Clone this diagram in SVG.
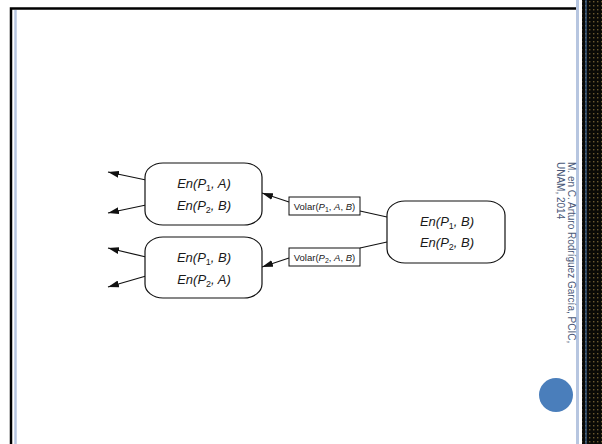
<svg xmlns="http://www.w3.org/2000/svg" width="602" height="444" viewBox="0 0 602 444">
  <style>
    .node { fill: #ffffff; stroke: #111111; stroke-width: 1.2; }
    .op { fill: #ffffff; stroke: #111111; stroke-width: 1; }
    .edge { fill: none; stroke: #111111; stroke-width: 1.2; }
    .lbl { font-family: "Liberation Sans", Arial, sans-serif; font-size: 13px; font-style: italic; fill: #1a1a1a; text-anchor: middle; }
    .sub { font-style: normal; }
    .op-lbl { font-family: "Liberation Sans", Arial, sans-serif; font-size: 9.5px; fill: #1a1a1a; text-anchor: middle; }
    .it { font-style: italic; }
    .credit { font-family: "Liberation Sans", Arial, sans-serif; font-size: 10px; fill: #4a5878; }
  </style>
  <defs>
    <marker id="arrow" viewBox="0 0 11 7" refX="11" refY="3.5" markerWidth="11" markerHeight="7" markerUnits="userSpaceOnUse" orient="auto">
      <path d="M0,0 L11,3.5 L0,7 Z" fill="#111111"/>
    </marker>
    <pattern id="dots" width="4" height="4" patternUnits="userSpaceOnUse">
      <rect width="4" height="4" fill="#0a0a06"/>
      <rect x="1" y="1" width="1.4" height="1.4" fill="#6b5a30"/>
    </pattern>
  </defs>

  <!-- slide background and frame -->
  <rect width="602" height="444" fill="#ffffff"/>
  <rect x="582" y="0" width="20" height="444" fill="url(#dots)"/>
  <line x1="586" y1="0" x2="586" y2="444" stroke="#4a7ebb" stroke-width="1"/>
  <line x1="577.5" y1="0" x2="577.5" y2="444" stroke="#b7c6e0" stroke-width="3"/>
  <line x1="15.5" y1="10" x2="15.5" y2="444" stroke="#b7c6e0" stroke-width="2.5"/>
  <polyline points="11,444 11,8.5 576,8.5" fill="none" stroke="#000000" stroke-width="2.5"/>

  <!-- author credit -->
  <text class="credit" transform="translate(568,162) rotate(90)">M. en C. Arturo Rodríguez García, PCIC,</text>
  <text class="credit" transform="translate(557,162) rotate(90)">UNAM, 2014</text>

  <circle cx="556" cy="395" r="17" fill="#4a7ebb"/>

  <!-- connectors -->
  <g id="edges">
    <line class="edge" x1="387" y1="217" x2="360" y2="211"/>
    <line class="edge" x1="387" y1="242" x2="360" y2="248"/>
    <line class="edge" x1="289" y1="202" x2="262" y2="193" marker-end="url(#arrow)"/>
    <line class="edge" x1="289" y1="258" x2="262" y2="267" marker-end="url(#arrow)"/>
    <line class="edge" x1="146" y1="180" x2="108" y2="172" marker-end="url(#arrow)"/>
    <line class="edge" x1="146" y1="205" x2="108" y2="213" marker-end="url(#arrow)"/>
    <line class="edge" x1="146" y1="257" x2="108" y2="248" marker-end="url(#arrow)"/>
    <line class="edge" x1="146" y1="276" x2="108" y2="287" marker-end="url(#arrow)"/>
  </g>

  <!-- state: P1 at B, P2 at B -->
  <g id="state-start">
    <rect class="node" x="387" y="201" width="118" height="62" rx="18" ry="14"/>
    <text class="lbl" x="447" y="226">En(P<tspan class="sub" font-size="9" dy="3">1</tspan><tspan dy="-3">, B)</tspan></text>
    <text class="lbl" x="447" y="247">En(P<tspan class="sub" font-size="9" dy="3">2</tspan><tspan dy="-3">, B)</tspan></text>
  </g>

  <!-- state: P1 at A, P2 at B -->
  <g id="state-top">
    <rect class="node" x="145" y="163" width="117" height="62" rx="18" ry="14"/>
    <text class="lbl" x="204" y="188">En(P<tspan class="sub" font-size="9" dy="3">1</tspan><tspan dy="-3">, A)</tspan></text>
    <text class="lbl" x="204" y="210">En(P<tspan class="sub" font-size="9" dy="3">2</tspan><tspan dy="-3">, B)</tspan></text>
  </g>

  <!-- state: P1 at B, P2 at A -->
  <g id="state-bottom">
    <rect class="node" x="145" y="237" width="117" height="61" rx="18" ry="14"/>
    <text class="lbl" x="204" y="262">En(P<tspan class="sub" font-size="9" dy="3">1</tspan><tspan dy="-3">, B)</tspan></text>
    <text class="lbl" x="204" y="284">En(P<tspan class="sub" font-size="9" dy="3">2</tspan><tspan dy="-3">, A)</tspan></text>
  </g>

  <!-- actions -->
  <g id="action-fly-p1">
    <rect class="op" x="289" y="197" width="71" height="18"/>
    <text class="op-lbl" x="324.5" y="209.5">Volar(<tspan class="it">P</tspan><tspan font-size="7" dy="2">1</tspan><tspan dy="-2">, </tspan><tspan class="it">A</tspan>, <tspan class="it">B</tspan>)</text>
  </g>
  <g id="action-fly-p2">
    <rect class="op" x="289" y="248" width="71" height="18"/>
    <text class="op-lbl" x="324.5" y="260.5">Volar(<tspan class="it">P</tspan><tspan font-size="7" dy="2">2</tspan><tspan dy="-2">, </tspan><tspan class="it">A</tspan>, <tspan class="it">B</tspan>)</text>
  </g>
</svg>
